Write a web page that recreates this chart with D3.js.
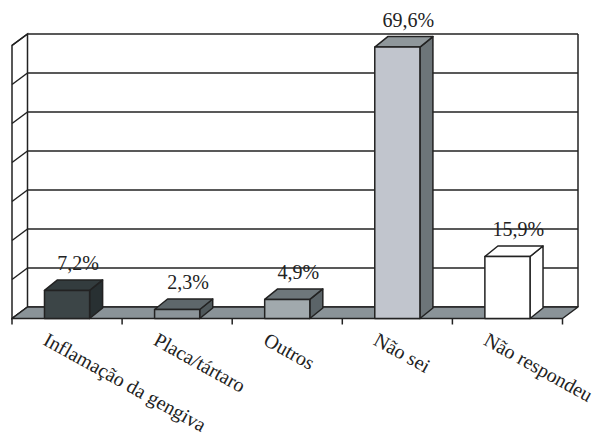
<!DOCTYPE html>
<html>
<head>
<meta charset="utf-8">
<script src="https://cdn.jsdelivr.net/npm/d3@7"></script>
<style>
  html, body { margin: 0; padding: 0; background: #fff; }
  svg { display: block; }
  text { font-family: "Liberation Serif", "Times New Roman", serif; fill: #222; }
</style>
</head>
<body>
<svg id="chart" width="599" height="435"></svg>
<script>
// Perceived causes of gum bleeding (%)
const categories = ["Inflamação da gengiva", "Placa/tártaro", "Outros", "Não sei", "Não respondeu"];
const values = [7.2, 2.3, 4.9, 69.6, 15.9];
const gridTicks = [0, 10, 20, 30, 40, 50, 60, 70];

// face colours per bar: front, top, side
const barFront = ["#3c4547", "#8b9499", "#a1a9ad", "#c1c5cd", "#ffffff"];
const barTop   = ["#333c3e", "#5e676b", "#6e777b", "#8f979b", "#ffffff"];
const barSide  = ["#283032", "#4f585b", "#5b6468", "#6d7579", "#ffffff"];

const svg = d3.select("#chart");
const ink = "#222";

// front plane of the plot box
const left = 12, right = 562.5, floorY = 318.5, topY = 45.5;
// depth of the walls and of the bars (oblique projection)
const wallDx = 15.5, wallDy = -11.5;
const barDx = 13, barDy = -10.5;

const y = d3.scaleLinear().domain([0, 70]).range([floorY, topY]);
const x = d3.scaleBand().domain(categories).range([left, right])
  .paddingInner(0.59).paddingOuter(0.295);
const xSlot = d3.scaleBand().domain(categories).range([left, right]).padding(0);

const line = d3.line();

// left side wall
svg.append("path")
  .attr("d", line([[left, y(0)], [left + wallDx, y(0) + wallDy], [left + wallDx, y(70) + wallDy], [left, y(70)]]) + "Z")
  .attr("fill", "#fff").attr("stroke", ink).attr("stroke-width", 1.5);

// back wall grid
const grid = svg.append("g");
grid.selectAll("line.h").data(gridTicks).join("line")
  .attr("x1", left + wallDx).attr("x2", right + wallDx)
  .attr("y1", d => y(d) + wallDy).attr("y2", d => y(d) + wallDy)
  .attr("stroke", ink).attr("stroke-width", 1.5);
grid.selectAll("line.s").data(gridTicks).join("line")
  .attr("x1", left).attr("x2", left + wallDx)
  .attr("y1", d => y(d)).attr("y2", d => y(d) + wallDy)
  .attr("stroke", ink).attr("stroke-width", 1.5);
grid.append("line")
  .attr("x1", right + wallDx).attr("x2", right + wallDx)
  .attr("y1", y(70) + wallDy).attr("y2", y(0) + wallDy)
  .attr("stroke", ink).attr("stroke-width", 1.5);

// floor
svg.append("path")
  .attr("d", line([[left, y(0)], [left + wallDx, y(0) + wallDy], [right + wallDx, y(0) + wallDy], [right, y(0)]]) + "Z")
  .attr("fill", "#8a9398").attr("stroke", ink).attr("stroke-width", 1.5).attr("stroke-linejoin", "round");

// category tick marks along the front edge
const tickXs = categories.map(c => xSlot(c)).concat([right]);
svg.selectAll("line.tick").data(tickXs).join("line")
  .attr("x1", d => d).attr("x2", d => d)
  .attr("y1", floorY).attr("y2", floorY + 6)
  .attr("stroke", ink).attr("stroke-width", 1.5);

// 3D bars
const bars = svg.selectAll("g.bar").data(values).join("g");
bars.each(function(v, i) {
  const g = d3.select(this);
  const x0 = x(categories[i]), x1 = x0 + x.bandwidth();
  const y0 = y(0), y1 = y(v);
  const common = el => el.attr("stroke", ink).attr("stroke-width", 1.5).attr("stroke-linejoin", "round");
  common(g.append("path")
    .attr("d", line([[x1, y0], [x1 + barDx, y0 + barDy], [x1 + barDx, y1 + barDy], [x1, y1]]) + "Z")
    .attr("fill", barSide[i]));
  common(g.append("path")
    .attr("d", line([[x0, y1], [x0 + barDx, y1 + barDy], [x1 + barDx, y1 + barDy], [x1, y1]]) + "Z")
    .attr("fill", barTop[i]));
  common(g.append("rect")
    .attr("x", x0).attr("y", y1).attr("width", x1 - x0).attr("height", y0 - y1)
    .attr("fill", barFront[i]));
});

// value labels
const fmt = d3.formatLocale({ decimal: ",", thousands: ".", grouping: [3], currency: ["", ""] }).format(".1f");
svg.selectAll("text.val").data(values).join("text")
  .attr("x", (d, i) => x(categories[i]) + x.bandwidth() / 2 + 11)
  .attr("y", d => y(d) + barDy - 10)
  .attr("text-anchor", "middle")
  .attr("font-size", 20)
  .text(d => fmt(d) + "%");

// rotated category labels
svg.selectAll("text.cat").data(categories).join("text")
  .attr("transform", c => `translate(${x(c) + x.bandwidth() / 2 - 25},${344}) rotate(29)`)
  .attr("font-size", 20)
  .text(c => c);
</script>
</body>
</html>
